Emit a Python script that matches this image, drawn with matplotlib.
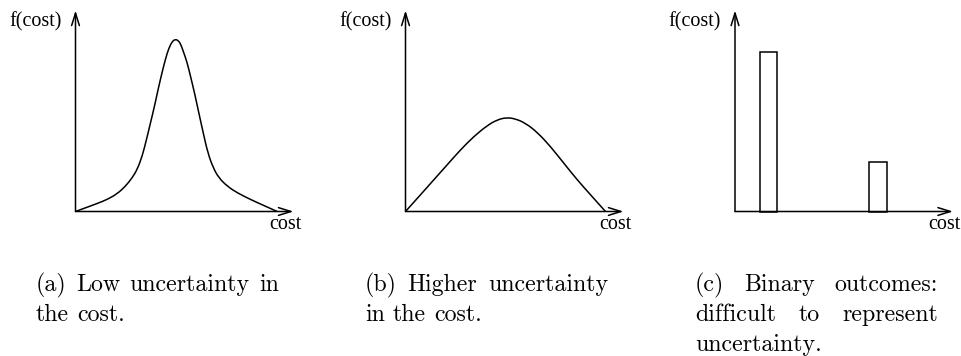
import matplotlib
matplotlib.use("Agg")
import matplotlib.pyplot as plt
from matplotlib.patches import Rectangle, PathPatch
from matplotlib.path import Path

# ---- data (arbitrary units of cost and density) ----
# (a) narrow, peaked density
cost_a = [0, 11.7, 21.7, 31.7, 41.7, 50, 56.7, 61.7, 66.7, 71, 75, 79, 83.3, 87.7,
          91.7, 95, 97.7, 100, 102.3, 105, 108.3, 111.7, 115, 119, 123.3, 127.7,
          132.3, 137.7, 143.3, 151.7, 161.7, 175, 188.3, 201.7]
dens_a = [0, 4.3, 8, 12, 17.7, 25.3, 33.7, 42, 55.3, 72, 88.7, 105.3, 125.3, 143.7,
          158.7, 167, 171, 172, 171.3, 168, 158.7, 148.7, 135.3, 118.7, 98.7, 78.7,
          58.7, 43.7, 33.7, 25.3, 18.7, 12, 6, 0]

# (b) broad density
cost_b = [0, 15, 28.3, 41.7, 55, 68.3, 81.7, 91.7, 101, 110, 120, 131.7, 145,
          158.3, 171.7, 185, 200]
dens_b = [0, 16.7, 31.7, 46.7, 61.7, 75, 86, 91.7, 94, 92.7, 88.3, 79.3, 65,
          48.3, 31.7, 16.7, 0]

# (c) two discrete outcomes
cost_c = [25, 134.3]
width_c = [17, 17.4]
dens_c = [160, 50]

captions = [
    ["(a) Low uncertainty in", "the cost."],
    ["(b) Higher uncertainty", "in the cost."],
    ["(c) Binary outcomes:", "difficult to represent", "uncertainty."],
]
x_label = "cost"
y_label = "f(cost)"

# ---- layout (pixels) ----
W, H = 962, 356
fig = plt.figure(figsize=(W / 100, H / 100), dpi=100)
fig.patch.set_facecolor("white")

axis_len_x, axis_len_y = 218, 201
base_y = 211.5
panel_x = [75.5, 405.5, 735.0]
LW = 1.1


def to_fig(x, y):
    return x / W, 1 - y / H


def smooth_curve(ax, xs, ys):
    """Quadratic B-spline path using the sample points as control points."""
    pts = list(zip(xs, ys))
    verts = [pts[0]]
    codes = [Path.MOVETO]
    for i in range(1, len(pts) - 1):
        p, q = pts[i], pts[i + 1]
        end = ((p[0] + q[0]) / 2, (p[1] + q[1]) / 2) if i < len(pts) - 2 else q
        verts += [p, end]
        codes += [Path.CURVE3, Path.CURVE3]
    ax.add_patch(PathPatch(Path(verts, codes), facecolor="none",
                           edgecolor="black", lw=LW, clip_on=False))


def make_axes(x0):
    ax = fig.add_axes([x0 / W, (H - base_y) / H, axis_len_x / W, axis_len_y / H])
    ax.set_xlim(0, axis_len_x)
    ax.set_ylim(0, axis_len_y)
    ax.axis("off")
    arrow = dict(arrowstyle="->,head_length=0.9,head_width=0.28", lw=LW,
                 color="black", shrinkA=0, shrinkB=0)
    ax.annotate("", xy=(axis_len_x, 0), xytext=(0, 0), arrowprops=arrow,
                annotation_clip=False)
    ax.annotate("", xy=(0, axis_len_y), xytext=(0, 0), arrowprops=arrow,
                annotation_clip=False)
    fx, fy = to_fig(x0 - 14, 26)
    fig.text(fx, fy, y_label, family="Liberation Serif", fontsize=14.5,
             ha="right", va="baseline")
    cx, cy = to_fig(x0 + 226, 229)
    fig.text(cx, cy, x_label, family="Liberation Serif", fontsize=14.5,
             ha="right", va="baseline")
    return ax


ax_a = make_axes(panel_x[0])
smooth_curve(ax_a, cost_a, dens_a)

ax_b = make_axes(panel_x[1])
smooth_curve(ax_b, cost_b, dens_b)

ax_c = make_axes(panel_x[2])
for c, w, d in zip(cost_c, width_c, dens_c):
    ax_c.add_patch(Rectangle((c, 0), w, d, facecolor="none", edgecolor="black",
                             lw=LW, clip_on=False))

# ---- justified captions in Computer Modern ----
col_left = [36, 365, 695]
col_width = 243
baselines = [291, 321, 351]
cap_size = 17.2
renderer = fig.canvas.get_renderer()
space_px = 0.333 * cap_size * 100 / 72

for left, lines in zip(col_left, captions):
    for i, line in enumerate(lines):
        words = line.split(" ")
        texts = []
        widths = []
        for wd in words:
            t = fig.text(0, 0, wd, family="cmr10", fontsize=cap_size,
                         ha="left", va="baseline")
            widths.append(t.get_window_extent(renderer).width)
            texts.append(t)
        last = i == len(lines) - 1
        if not last and len(words) > 1:
            gap = (col_width - sum(widths)) / (len(words) - 1)
        else:
            gap = space_px
        x = left
        for t, w in zip(texts, widths):
            t.set_position(to_fig(x, baselines[i]))
            x += w + gap

fig.savefig("out.png", dpi=100, facecolor="white")
